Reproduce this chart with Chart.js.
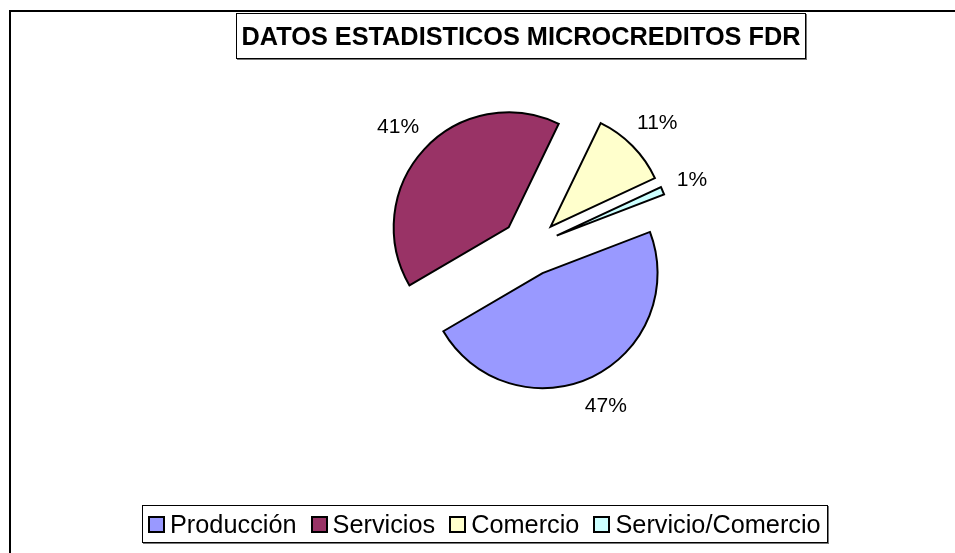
<!DOCTYPE html>
<html><head><meta charset="utf-8">
<script src="https://cdn.jsdelivr.net/npm/chart.js@4.4.0/dist/chart.umd.min.js"></script>
<style>
html,body{margin:0;padding:0;background:#fff;overflow:hidden;}
#wrap{position:relative;width:955px;height:553px;overflow:hidden;font-family:"Liberation Sans",Arial,sans-serif;color:#000;}
#frame{position:absolute;left:9px;top:10px;width:2000px;height:2000px;border-top:2px solid #000;border-left:2px solid #000;}
#c{position:absolute;left:0;top:0;}
#title{position:absolute;left:236px;top:13px;width:570px;height:46px;box-sizing:border-box;border:1px solid #000;box-shadow:1px 1px 0 #777;background:#fff;font-weight:bold;font-size:25.3px;line-height:44px;text-align:center;white-space:nowrap;}
#legend{position:absolute;left:142px;top:505px;width:686px;height:38px;box-sizing:border-box;border:1px solid #000;box-shadow:1px 1px 0 #777;background:#fff;display:flex;align-items:center;padding-left:5px;font-size:25.3px;white-space:nowrap;}
.item{display:flex;align-items:center;margin-right:14px;}
.sw{width:17px;height:17px;box-sizing:border-box;border:2px solid #000;margin-right:5px;}
</style>
</head><body>
<div id="wrap">
  <div id="frame"></div>
  <canvas id="c" width="955" height="553"></canvas>
  <div id="title"></div>
  <div id="legend"></div>
</div>
<script>
const chartTitle = 'DATOS ESTADISTICOS MICROCREDITOS FDR';
const categories = ['Producción', 'Servicios', 'Comercio', 'Servicio/Comercio'];
const shares = [47.4, 40.6, 10.9, 1.1];
const sliceColors = ['#9999FF', '#993366', '#FFFFCC', '#CCFFFF'];

const EXPLODE = 29;
const LABEL_GAP = 15;

document.getElementById('title').textContent = chartTitle;
const legendEl = document.getElementById('legend');
categories.forEach((name, i) => {
  const it = document.createElement('div');
  it.className = 'item';
  const sw = document.createElement('span');
  sw.className = 'sw';
  sw.style.background = sliceColors[i];
  const tx = document.createElement('span');
  tx.textContent = name;
  it.appendChild(sw); it.appendChild(tx);
  legendEl.appendChild(it);
});

const explodePlugin = {
  id: 'explode',
  beforeDatasetDraw(chart, args) {
    const ctx = chart.ctx;
    args.meta.data.forEach(arc => {
      const p = arc.getProps(['startAngle', 'endAngle'], true);
      const m = (p.startAngle + p.endAngle) / 2;
      ctx.save();
      ctx.translate(Math.cos(m) * EXPLODE, Math.sin(m) * EXPLODE);
      arc.draw(ctx);
      ctx.restore();
    });
    return false;
  }
};

const labelPlugin = {
  id: 'pctLabels',
  afterDatasetsDraw(chart) {
    const ctx = chart.ctx;
    const meta = chart.getDatasetMeta(0);
    const total = shares.reduce((a, b) => a + b, 0);
    const fs = 21;
    ctx.save();
    ctx.font = fs + 'px "Liberation Sans", Arial, sans-serif';
    ctx.fillStyle = '#000';
    ctx.textAlign = 'center';
    ctx.textBaseline = 'alphabetic';
    meta.data.forEach((arc, i) => {
      const p = arc.getProps(['x', 'y', 'startAngle', 'endAngle', 'outerRadius'], true);
      const m = (p.startAngle + p.endAngle) / 2;
      const ux = Math.cos(m), uy = Math.sin(m);
      const txt = Math.round(shares[i] / total * 100) + '%';
      const w = ctx.measureText(txt).width;
      const hh = fs * 0.36;
      const ext = Math.abs(ux) * w / 2 + Math.abs(uy) * hh;
      const d = EXPLODE + p.outerRadius + LABEL_GAP + ext;
      ctx.fillText(txt, p.x + ux * d, p.y + uy * d + hh);
    });
    ctx.restore();
  }
};

new Chart(document.getElementById('c'), {
  type: 'pie',
  data: {
    labels: categories,
    datasets: [{
      data: shares,
      backgroundColor: sliceColors,
      borderColor: '#000',
      borderWidth: 2,
      borderJoinStyle: 'miter',
      radius: 115,
      offset: 0
    }]
  },
  options: {
    responsive: false,
    animation: false,
    events: [],
    rotation: 69,
    radius: 115,
    layout: { padding: { left: 105, right: 0, top: 0, bottom: 59 } },
    plugins: {
      legend: { display: false },
      title: { display: false },
      tooltip: { enabled: false }
    }
  },
  plugins: [explodePlugin, labelPlugin]
});
</script>
</body></html>
